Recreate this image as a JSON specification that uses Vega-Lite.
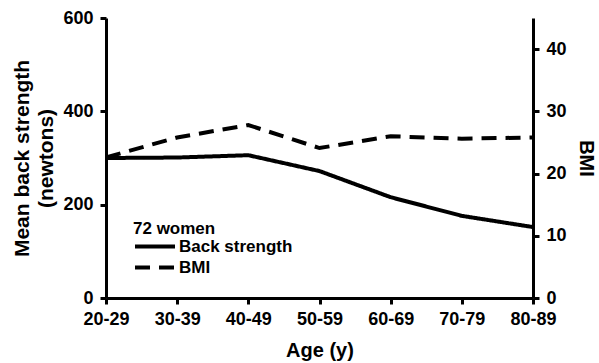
{
  "$schema": "https://vega.github.io/schema/vega-lite/v6.json",
  "autosize": {"type": "none"},
  "padding": {"left": 106, "top": 18, "right": 66, "bottom": 65},
  "width": 427,
  "height": 280,
  "background": "white",
  "config": {
    "view": {"stroke": null},
    "font": "Liberation Sans",
    "axis": {
      "grid": false,
      "domainColor": "black",
      "domainWidth": 3,
      "tickColor": "black",
      "tickWidth": 3,
      "tickSize": 6,
      "labelFont": "Liberation Sans",
      "labelFontWeight": "bold",
      "labelFontSize": 18,
      "labelColor": "black",
      "titleFont": "Liberation Sans",
      "titleFontWeight": "bold",
      "titleFontSize": 20,
      "titleColor": "black"
    },
    "legend": {
      "labelFont": "Liberation Sans",
      "labelFontWeight": "bold",
      "labelFontSize": 17,
      "labelColor": "black",
      "titleFont": "Liberation Sans",
      "titleFontWeight": "bold",
      "titleFontSize": 17,
      "titleColor": "black"
    }
  },
  "data": {
    "values": [
      {"age": "20-29", "strength": 300, "bmi": 22.6},
      {"age": "30-39", "strength": 301, "bmi": 25.8},
      {"age": "40-49", "strength": 306, "bmi": 27.8},
      {"age": "50-59", "strength": 272, "bmi": 24.1},
      {"age": "60-69", "strength": 216, "bmi": 26.0},
      {"age": "70-79", "strength": 176, "bmi": 25.6},
      {"age": "80-89", "strength": 152, "bmi": 25.8}
    ]
  },
  "encoding": {
    "x": {
      "field": "age",
      "type": "ordinal",
      "scale": {"type": "point", "padding": 0},
      "axis": {"labelAngle": 0, "title": "Age (y)", "titlePadding": 12, "labelPadding": 6}
    }
  },
  "layer": [
    {
      "mark": {"type": "line", "color": "black", "strokeWidth": 4},
      "encoding": {
        "y": {
          "field": "strength",
          "type": "quantitative",
          "scale": {"domain": [0, 600]},
          "axis": {"values": [0, 200, 400, 600], "title": ["Mean back strength", "(newtons)"], "titleFontSize": 21, "titlePadding": 6, "titleLineHeight": 24, "labelPadding": 7}
        },
        "strokeDash": {
          "datum": "Back strength",
          "type": "nominal",
          "scale": {"domain": ["Back strength", "BMI"], "range": [[1, 0], [15, 9]]},
          "legend": {
            "title": "72 women",
            "orient": "none",
            "legendX": 27,
            "legendY": 203,
            "symbolType": "stroke",
            "symbolSize": 1600,
            "symbolStrokeWidth": 4,
            "symbolStrokeColor": "black",
            "labelOffset": 2,
            "clipHeight": 21,
            "rowPadding": 0,
            "titlePadding": -2
          }
        }
      }
    },
    {
      "mark": {"type": "line", "color": "black", "strokeWidth": 4},
      "encoding": {
        "y": {
          "field": "bmi",
          "type": "quantitative",
          "scale": {"domain": [0, 45]},
          "axis": {"orient": "right", "values": [0, 10, 20, 30, 40], "title": "BMI", "titleAngle": 90, "titleFontSize": 20, "titlePadding": 9, "labelPadding": 7}
        },
        "strokeDash": {"datum": "BMI", "type": "nominal"}
      }
    }
  ],
  "resolve": {"scale": {"y": "independent"}}
}
